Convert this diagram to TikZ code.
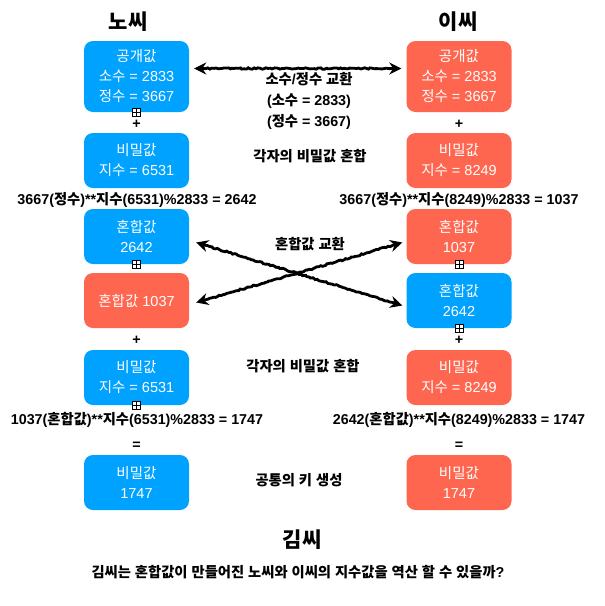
\documentclass[tikz,border=0pt]{standalone}
\usepackage{fontspec}
\setmainfont{Liberation Sans}
\newfontfamily\krfont{Noto Sans CJK KR}
\usetikzlibrary{arrows.meta, positioning}
\usetikzlibrary{decorations.pathmorphing}
\definecolor{nohblue}{RGB}{0,162,255}
\definecolor{leered}{RGB}{255,102,80}

% Hangul syllables in the Korean font, the rest in Liberation Sans
\XeTeXinterchartokenstate=1
\newXeTeXintercharclass\hangulclass
\newcount\hcode
\hcode="AC00
\loop
  \XeTeXcharclass\hcode=\hangulclass
  \advance\hcode by 1
\ifnum\hcode<"D7A4 \repeat
\XeTeXinterchartoks 0 \hangulclass = {\krfont}
\XeTeXinterchartoks 4095 \hangulclass = {\krfont}
\XeTeXinterchartoks \hangulclass 0 = {\rmfamily}
\XeTeXinterchartoks \hangulclass 4095 = {\rmfamily}

\begin{document}
\begin{tikzpicture}[x=1pt,y=-1pt,
    box/.style={rounded corners=9pt, minimum width=105pt, minimum height=55pt,
        text=white, font=\fontsize{14.5}{20}\selectfont, align=center, inner sep=0pt},
    noh/.style={box, fill=nohblue},
    lee/.style={box, fill=leered},
    note/.style={font=\bfseries\fontsize{14.3}{21}\selectfont, align=center},
    title/.style={font=\bfseries\fontsize{21}{24}\selectfont},
    fold/.style={draw, fill=white, minimum size=8pt, inner sep=0pt, line width=0.7pt,
        path picture={\draw[line width=0.6pt] (path picture bounding box.north) -- (path picture bounding box.south)
            (path picture bounding box.west) -- (path picture bounding box.east);}},
    swap/.style={line width=2.8pt, {Stealth[length=12pt,width=12pt]}-{Stealth[length=12pt,width=12pt]},
        decorate, decoration={random steps, segment length=2pt, amplitude=0.7pt,
        pre length=10pt, post length=10pt}}]
    \useasboundingbox (0,0) rectangle (605,606);

    % titles
    \node[title] (tnoh) at (128,22) {노씨};
    \node[title] (tlee) at (458,22) {이씨};
    \node[title] (tkim) at (302,540) {김씨};
    \node[note] (quest) at (298,572) {김씨는 혼합값이 만들어진 노씨와 이씨의 지수값을 역산 할 수 있을까?};

    % noh column
    \node[noh, minimum height=71pt] (noh1) at (136.5,76.5) {공개값\\소수 = 2833\\정수 = 3667};
    \node[noh] (noh2) at (136.5,160.5) {비밀값\\지수 = 6531};
    \node[noh] (noh3) at (136.5,236.5) {혼합값\\2642};
    \node[lee] (noh4) at (136.5,300.5) {혼합값 1037};
    \node[noh] (noh5) at (136.5,377.5) {비밀값\\지수 = 6531};
    \node[noh] (noh6) at (136.5,482.5) {비밀값\\1747};

    % lee column
    \node[lee, minimum height=71pt] (lee1) at (459,76.5) {공개값\\소수 = 2833\\정수 = 3667};
    \node[lee] (lee2) at (459,160.5) {비밀값\\지수 = 8249};
    \node[lee] (lee3) at (459,236.5) {혼합값\\1037};
    \node[noh] (lee4) at (459,300.5) {혼합값\\2642};
    \node[lee] (lee5) at (459,377.5) {비밀값\\지수 = 8249};
    \node[lee] (lee6) at (459,482.5) {비밀값\\1747};

    % fold marks
    \node[fold] at (noh1.south) {};
    \node[fold] at (noh3.south) {};
    \node[fold] at (noh5.south) {};
    \node[fold] at (lee3.south) {};
    \node[fold] at (lee4.south) {};

    % operators and formulas
    \node[note] (plus1) at (136.5,124) {+};
    \node[note] (plus2) at (459,124) {+};
    \node[note] (calc1) at (137,200) {3667(정수)**지수(6531)\%2833 = 2642};
    \node[note] (calc2) at (459,200) {3667(정수)**지수(8249)\%2833 = 1037};
    \node[note] (plus3) at (136.5,340) {+};
    \node[note] (plus4) at (459,340) {+};
    \node[note] (calc3) at (137,420) {1037(혼합값)**지수(6531)\%2833 = 1747};
    \node[note] (calc4) at (459,420) {2642(혼합값)**지수(8249)\%2833 = 1747};
    \node[note] (eq1) at (136.5,446) {=};
    \node[note] (eq2) at (459,446) {=};

    % middle notes
    \node[note] (swap1) at (309,101) {소수/정수 교환\\(소수 = 2833)\\(정수 = 3667)};
    \node[note] (mix1) at (310,156) {각자의 비밀값 혼합};
    \node[note] (swap2) at (310,244) {혼합값 교환};
    \node[note] (mix2) at (303,366) {각자의 비밀값 혼합};
    \node[note] (key) at (299,480) {공통의 키 생성};

    % exchanges
    \draw[swap] ([xshift=5pt,yshift=8pt]noh1.east) -- ([xshift=-5pt,yshift=8pt]lee1.west);
    \draw[swap] ([xshift=7pt,yshift=-6pt]noh3.east) -- ([xshift=-4pt,yshift=-5pt]lee4.west);
    \draw[swap] ([xshift=7pt,yshift=-2pt]noh4.east) -- ([xshift=-4pt,yshift=-6pt]lee3.west);
\end{tikzpicture}
\end{document}
